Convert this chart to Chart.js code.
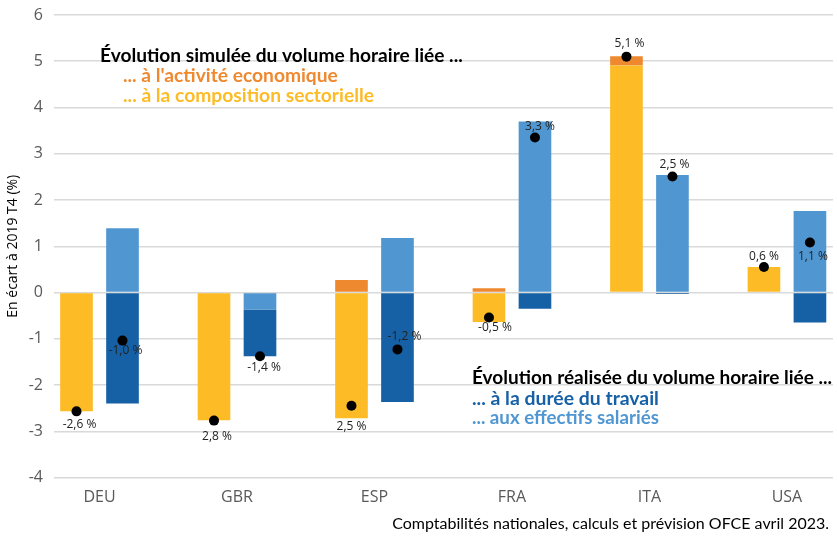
<!DOCTYPE html>
<html>
<head>
<meta charset="utf-8">
<script src="https://cdn.jsdelivr.net/npm/chart.js@4.4.0/dist/chart.umd.min.js"></script>
<style>
  html, body { margin: 0; padding: 0; background: #fff; }
</style>
</head>
<body>
<canvas id="chart" width="837" height="536"></canvas>
<script>
// data
const countries = ["DEU", "GBR", "ESP", "FRA", "ITA", "USA"];
const yTicks = [-4, -3, -2, -1, 0, 1, 2, 3, 4, 5, 6];

// simulated evolution (left bar)
const sectorComposition = [-2.57, -2.76, -2.72, -0.64, 4.91, 0.55];
const economicActivity = [0, 0, 0.27, 0.09, 0.20, 0];
const simTotal = [-2.57, -2.77, -2.45, -0.54, 5.10, 0.55];
const simLabels = ["-2,6 %", "2,8 %", "2,5 %", "-0,5 %", "5,1 %", "0,6 %"];

// realised evolution (right bar)
const employees = [1.39, -0.37, 1.18, 3.70, 2.54, 1.76];
const workDuration = [-2.40, -1.01, -2.37, -0.35, -0.03, -0.65];
const realTotal = [-1.04, -1.38, -1.23, 3.35, 2.51, 1.08];
const realLabels = ["-1,0 %", "-1,4 %", "-1,2 %", "3,3 %", "2,5 %", "1,1 %"];

// label placement relative to the dot (px)
const simDx = [3, 3, 0, 6, 3, 0], simDy = [13, 16, 21, 10, -13, -10];
const realDx = [3, 4, 7, 5, 2, 3], realDy = [10, 11, -13, -11, -12, 14];

const YELLOW = "#FDBB26", ORANGE = "#EF8930", DARK_BLUE = "#1660A6", LIGHT_BLUE = "#5097D2";

const notes = [
  { text: "Évolution simulée du volume horaire liée ...", color: "#000", x: 100, y: 62, w: 363 },
  { text: "... à l'activité economique", color: ORANGE, x: 123, y: 82, w: 215 },
  { text: "... à la composition sectorielle", color: YELLOW, x: 123, y: 102, w: 251 },
  { text: "Évolution réalisée du volume horaire liée ...", color: "#000", x: 472, y: 384, w: 360 },
  { text: "... à la durée du travail", color: DARK_BLUE, x: 472, y: 405, w: 187 },
  { text: "... aux effectifs salariés", color: LIGHT_BLUE, x: 472, y: 424, w: 187 }
];
const source = "Comptabilités nationales, calculs et prévision OFCE avril 2023.";

const toXY = arr => arr.map((v, i) => ({ x: i, y: v }));

function fitFont(ctx, text, width, weight, family) {
  ctx.font = weight + " 20px " + family;
  const size = 20 * width / ctx.measureText(text).width;
  return weight + " " + size.toFixed(2) + "px " + family;
}

const overlay = {
  id: "overlay",
  afterDatasetsDraw(chart) {
    const ctx = chart.ctx;
    const y = chart.scales.y;
    const simBars = chart.getDatasetMeta(0).data;
    const realBars = chart.getDatasetMeta(2).data;
    ctx.save();
    ctx.fillStyle = "#000";
    countries.forEach((c, i) => {
      [[simBars[i].x, simTotal[i]], [realBars[i].x, realTotal[i]]].forEach(([px, v]) => {
        ctx.beginPath();
        ctx.arc(px, y.getPixelForValue(v), 5, 0, Math.PI * 2);
        ctx.fill();
      });
    });
    ctx.font = "12px 'Open Sans'";
    ctx.fillStyle = "#222";
    ctx.textAlign = "center";
    ctx.textBaseline = "middle";
    countries.forEach((c, i) => {
      ctx.fillText(simLabels[i], simBars[i].x + simDx[i], y.getPixelForValue(simTotal[i]) + simDy[i]);
      ctx.fillText(realLabels[i], realBars[i].x + realDx[i], y.getPixelForValue(realTotal[i]) + realDy[i]);
    });
    ctx.restore();
  },
  afterDraw(chart) {
    const ctx = chart.ctx;
    ctx.save();
    ctx.textBaseline = "alphabetic";
    ctx.textAlign = "left";
    notes.forEach(n => {
      ctx.font = fitFont(ctx, n.text, n.w, "bold", "Lato");
      ctx.fillStyle = n.color;
      ctx.fillText(n.text, n.x, n.y);
    });
    ctx.font = fitFont(ctx, source, 437, "normal", "Lato");
    ctx.fillStyle = "#000";
    ctx.textAlign = "right";
    ctx.fillText(source, 829, 529);
    ctx.restore();
  }
};

new Chart(document.getElementById("chart"), {
  type: "bar",
  data: {
    datasets: [
      { label: "composition sectorielle", data: toXY(sectorComposition), backgroundColor: YELLOW, stack: "sim" },
      { label: "activité economique", data: toXY(economicActivity), backgroundColor: ORANGE, stack: "sim" },
      { label: "effectifs salariés", data: toXY(employees), backgroundColor: LIGHT_BLUE, stack: "real" },
      { label: "durée du travail", data: toXY(workDuration), backgroundColor: DARK_BLUE, stack: "real" }
    ]
  },
  options: {
    responsive: false,
    animation: false,
    devicePixelRatio: 1,
    categoryPercentage: 0.669,
    barPercentage: 0.71,
    borderWidth: 0,
    layout: { padding: { top: 15, right: 4, left: 0, bottom: 0 } },
    plugins: { legend: { display: false }, tooltip: { enabled: false } },
    scales: {
      x: {
        type: "linear",
        min: -0.331,
        max: 5.335,
        stacked: true,
        offset: false,
        grid: { display: false, offset: false, drawTicks: false },
        border: { display: false },
        afterBuildTicks: s => { s.ticks = countries.map((c, i) => ({ value: i })); },
        ticks: {
          callback: v => countries[v],
          color: "#595959",
          font: { family: "'Open Sans'", size: 16 },
          padding: 10,
          maxRotation: 0,
          autoSkip: false
        },
        afterFit: s => { s.height = 58.5; s.paddingLeft = 0; s.paddingRight = 0; }
      },
      y: {
        stacked: true,
        min: -4,
        max: 6,
        afterBuildTicks: s => { s.ticks = yTicks.map(v => ({ value: v })); },
        grid: { color: "#d9d9d9", lineWidth: 1.5, drawTicks: false },
        border: { display: false },
        ticks: {
          color: "#595959",
          font: { family: "'Open Sans'", size: 16 },
          padding: 11
        },
        title: {
          display: true,
          text: "En écart à 2019 T4 (%)",
          color: "#000",
          font: { family: "'Open Sans'", size: 14 },
          padding: { top: 5, bottom: 0 }
        },
        afterFit: s => { s.width = 54; s.paddingTop = 0; s.paddingBottom = 0; }
      }
    }
  },
  plugins: [overlay]
});
</script>
</body>
</html>
